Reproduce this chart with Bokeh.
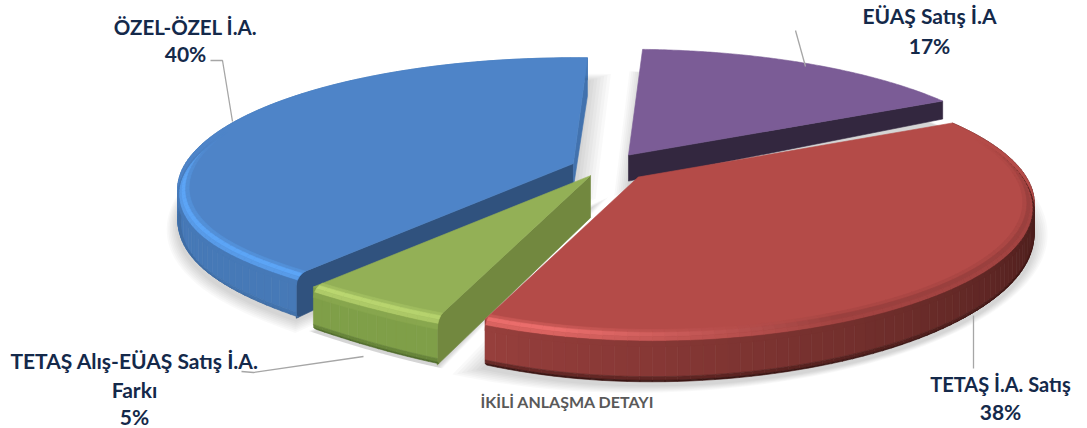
import numpy as np
from bokeh.plotting import figure
from bokeh.models import Range1d, ColumnDataSource
from bokeh.core.properties import value
from bokeh.embed import file_html
from bokeh.resources import INLINE

# data
categories = ["EÜAŞ Satış İ.A", "TETAŞ İ.A. Satış", "TETAŞ Alış-EÜAŞ Satış İ.A. Farkı", "ÖZEL-ÖZEL İ.A."]
shares = [16.6, 38.1, 5.49, 39.81]
chart_title = "İKİLİ ANLAŞMA DETAYI"

# style per slice: face, highlight (left,right), wall (left,right), bottom, start wall, end wall
faces = ["#7B5C96", "#B44B48", "#93B056", "#4E84C8"]
high_a = ["#7B5C96", "#EA6D6B", "#D2EE80", "#5CA5F6"]
high_b = ["#7B5C96", "#9A403E", "#D2EE80", "#5CA5F6"]
wall_a = ["#33273F", "#973F3C", "#7F9F48", "#4679B7"]
wall_b = ["#33273F", "#491D1B", "#7F9F48", "#4679B7"]
bottoms = ["#221A2A", "#3A1412", "#4F6B2A", "#3F6DA5"]
start_walls = [None, None, "#72883F", "#30527E"]
end_walls = ["#33273F", None, None, "#4272AE"]
explode = [0.135, 0.10, 0.064, 0.092]
apex_depth = [26, 28, 42, 24]
end_corner_depth = [18, None, None, 38]
fade = [None, (72, 96), (80, 300), (264, 285)]
draw_order = [0, 3, 2, 1]

# projection of the tilted, perspective disc
CX, CY, A, B, K, H = 604.0, 167.0, 388.0, 127.0, 0.2, 31.0
START = 2.5


def scale(th):
    return 1.0 / (1.0 + K * np.cos(np.radians(th)))


def proj(th, r=1.0):
    t = np.radians(th)
    s = 1.0 / (1.0 + K * r * np.cos(t))
    flat = 1.0 - 0.05 * np.exp(-(((th - 212.0) / 22.0) ** 2))
    return A * r * np.sin(t) * s * flat, -B * r * np.cos(t) * s * flat


def hexrgb(c):
    return np.array([int(c[i:i + 2], 16) for i in (1, 3, 5)], float)


def mix(c1, c2, t):
    a = hexrgb(c1) * (1 - t) + hexrgb(c2) * t
    return "#%02x%02x%02x" % tuple(int(round(v)) for v in a)


xs, ys, cols = [], [], []
sx, sy = [], []


def add(px, py, col):
    xs.append(list(px)); ys.append(list(py)); cols.append(col)


# radial factor, depth factor, kind and amount
wall_profile = [
    (1.000, 0.00, "wall", 0.0),
    (1.000, 0.86, "wall", 0.0),
    (0.999, 0.94, "bot", 0.5),
    (0.992, 1.00, "bot", 1.0),
]
bevel_profile = [
    (0.972, 0.00, "face", 0.0),
    (0.982, 0.02, "high", 0.35),
    (0.991, 0.07, "high", 1.0),
    (0.997, 0.14, "high", 0.7),
    (1.000, 0.24, "wall", 0.0),
]

totals = np.cumsum([0] + shares) / float(sum(shares)) * 360.0 + START
slices = []
for i in range(len(shares)):
    t0, t1 = totals[i], totals[i + 1]
    mid = (t0 + t1) / 2
    ex, ey = proj(mid)
    ax, ay = CX + explode[i] * ex, CY + explode[i] * ey
    slices.append((i, t0, t1, ax, ay))
    # soft shadow
    ths = np.linspace(t0, t1, 80)
    rx, ry = proj(ths)
    bx = np.r_[ax, ax + rx]
    by = np.r_[ay + H, ay + ry + H * scale(ths) ** 2]
    mx, my = bx.mean(), by.mean()
    for j in range(1, 8):
        f = 1 + 0.012 * j
        sx.append(list(mx + (bx - mx) * f))
        sy.append(list(my + (by - my) * f + 2))


def bands(i, ax, ay, edges, profile, weight):
    for a, b in zip(edges[:-1], edges[1:]):
        m = (a + b) / 2
        w = weight(m)
        if w <= 0:
            continue
        q = np.clip((m - 100) / 100.0, 0, 1)  # 0 right side, 1 left side
        hc = mix(high_b[i], high_a[i], np.clip((q - 0.55) / 0.35, 0, 1))
        wc = mix(wall_b[i], wall_a[i], q)
        for p0, p1 in zip(profile[:-1], profile[1:]):
            kind, amt = p1[2], p1[3]
            if kind == "high":
                c = mix(faces[i], hc, amt)
            elif kind == "wall":
                c = wc
            elif kind == "bot":
                c = mix(wc, bottoms[i], amt)
            else:
                c = faces[i]
            c = mix(faces[i], c, w)
            pts = []
            for th, pr in ((a, p0), (b, p0), (b, p1), (a, p1)):
                x, y = proj(th, pr[0])
                pts.append((ax + x, ay + y + H * scale(th) ** 2 * pr[1]))
            add([v[0] for v in pts], [v[1] for v in pts], c)


for idx in draw_order:
    i, t0, t1, ax, ay = slices[idx]
    # straight cut walls that can be seen
    for th, col, cd in ((t0, start_walls[i], None), (t1, end_walls[i], end_corner_depth[i])):
        if col is None:
            continue
        rx, ry = proj(th)
        d = cd if cd is not None else H * scale(th) ** 2
        add([ax, ax + rx, ax + rx, ax], [ay, ay + ry, ay + ry + d, ay + apex_depth[i]], col)
    edges = np.linspace(t0, t1, int(max(8, (t1 - t0) / 1.5)) + 1)
    if fade[i] is not None:
        bands(i, ax, ay, edges, wall_profile, lambda m: 1.0)
    # face
    ths = np.linspace(t0, t1, 120)
    rx, ry = proj(ths)
    add(np.r_[ax, ax + rx], np.r_[ay, ay + ry], faces[i])
    # bevel above the wall
    if fade[i] is not None:
        f0, f1 = fade[i]
        if i == 3:
            weight = lambda m, f0=f0, f1=f1: float(np.clip((f1 - m) / (f1 - f0), 0, 1))
        else:
            weight = lambda m, f0=f0, f1=f1: float(np.clip((m - f0) / (f1 - f0), 0, 1))
        bands(i, ax, ay, edges, bevel_profile, weight)

p = figure(width=1087, height=428, x_range=Range1d(0, 1087), y_range=Range1d(428, 0),
           output_backend="svg", toolbar_location=None, min_border=0)
p.axis.visible = False
p.grid.visible = False
p.outline_line_color = None
p.background_fill_color = "white"

p.patches(sx, sy, fill_color="black", fill_alpha=0.022, line_color=None)
p.patches("xs", "ys", source=ColumnDataSource(dict(xs=xs, ys=ys, c=cols)),
          fill_color="c", line_color="c", line_width=0.6)

# leader lines
leaders = [([210, 222, 232], [60, 60, 121]),
           ([795, 805], [30, 66]),
           ([973, 973], [315, 368]),
           ([241, 253, 363], [371, 372, 356])]
for lx, ly in leaders:
    p.line(lx, ly, line_color="#A6A6A6", line_width=1.3)

# labels
pct = [f"{round(v)}%" for v in shares]
label_lines = [categories[0], pct[0], categories[1], pct[1],
               "TETAŞ Alış-EÜAŞ Satış İ.A.", "Farkı", pct[2],
               categories[3], pct[3]]
label_x = [929, 929, 1000, 1000, 134, 134, 134, 185, 185]
label_y = [15, 45, 383, 411, 360, 389, 416, 26, 53]
label_sizes = ["21px", "21px", "20px", "21px", "21px", "21px", "21px", "20.5px", "21px"]
p.text(label_x, label_y, text=label_lines, text_font=value("Lato"), text_font_style="bold",
       text_font_size=label_sizes, text_color="#14294A", text_align="center", text_baseline="middle")
p.text([567], [401], text=[chart_title], text_font=value("Lato"), text_font_style="bold",
       text_font_size="16px", text_color="#595959", text_align="center", text_baseline="middle")

open("out.html", "w").write(file_html(p, INLINE))
